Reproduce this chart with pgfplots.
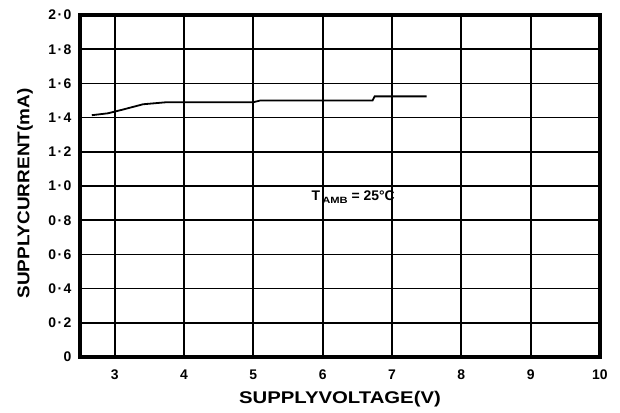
\documentclass[border=0pt]{standalone}
\usepackage{pgfplots}
\pgfplotsset{compat=1.18}
\usepackage{graphicx}
\usepackage{fontspec}
\setmainfont{Liberation Sans}
\begin{document}
\begin{tikzpicture}
\useasboundingbox (-80bp,-56bp) rectangle (540bp,357bp);
\begin{axis}[
  scale only axis,
  width=520bp, height=342bp,
  xmin=2.5, xmax=10, ymin=0, ymax=2,
  xtick={3,4,5,6,7,8,9,10},
  ytick={0,0.2,0.4,0.6,0.8,1.0,1.2,1.4,1.6,1.8,2.0},
  yticklabels={0,0\kern1.5bp·\kern1.5bp2,0\kern1.5bp·\kern1.5bp4,0\kern1.5bp·\kern1.5bp6,0\kern1.5bp·\kern1.5bp8,1\kern1.5bp·\kern1.5bp0,1\kern1.5bp·\kern1.5bp2,1\kern1.5bp·\kern1.5bp4,1\kern1.5bp·\kern1.5bp6,1\kern1.5bp·\kern1.5bp8,2\kern1.5bp·\kern1.5bp0},
  xticklabels={3,4,5,6,7,8,9,10},
  grid=major,
  major grid style={black, line width=1.7bp},
  major tick length=0pt,
  axis line style={black, line width=3.6bp},
  tick label style={font=\fontsize{14}{16}\selectfont\bfseries},
  yticklabel style={xshift=-5bp},
  xticklabel style={yshift=-9bp},
  xlabel={\scalebox{1.2}[1]{\fontsize{17}{19}\selectfont\bfseries SUPPLYVOLTAGE(V)}},
  ylabel={\scalebox{1.12}[1]{\fontsize{17}{19}\selectfont\bfseries SUPPLYCURRENT(mA)}},
  xlabel style={at={(rel axis cs:0.5,0)}, anchor=center, yshift=-42bp},
  ylabel style={at={(rel axis cs:0,0.478)}, anchor=center, yshift=55bp},
  clip=false,
]
\addplot[black, line width=1.8bp] coordinates {
(2.67,1.414) (2.90,1.425) (3.10,1.445) (3.41,1.478) (3.75,1.49)
(5.00,1.49) (5.10,1.50) (6.72,1.50) (6.75,1.524) (7.50,1.524)
};
\node[font=\fontsize{14}{16}\selectfont\bfseries] at (axis cs:6.44,0.935)
  {T\,\raisebox{-0.4ex}{\scalebox{0.8}[0.65]{AMB}} = 25\textdegree C};
\end{axis}
\end{tikzpicture}
\end{document}
